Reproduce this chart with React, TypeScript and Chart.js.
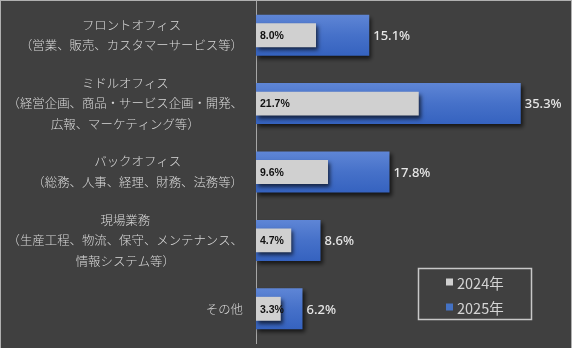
import React, { useEffect, useRef } from "react";
import { Chart, registerables } from "chart.js";

Chart.register(...registerables);

const categories: string[][] = [
  ["フロントオフィス", "（営業、販売、カスタマーサービス等）"],
  ["ミドルオフィス", "（経営企画、商品・サービス企画・開発、", "広報、マーケティング等）"],
  ["バックオフィス", "（総務、人事、経理、財務、法務等）"],
  ["現場業務", "（生産工程、物流、保守、メンテナンス、", "情報システム等）"],
  ["その他"],
];
const values2024: number[] = [8.0, 21.7, 9.6, 4.7, 3.3];
const values2025: number[] = [15.1, 35.3, 17.8, 8.6, 6.2];
const seriesNames: string[] = ["2024年", "2025年"];

const BG = "#404040";
const GREY = "#d0d0d0";
const BLUE = "#4472c4";
const JP_FONT = '"Noto Sans CJK JP", "Noto Sans", sans-serif';

const bgPlugin = {
  id: "bgPlugin",
  beforeDraw(chart: any) {
    const ctx = chart.ctx;
    ctx.save();
    ctx.fillStyle = BG;
    ctx.fillRect(0, 0, chart.width, chart.height);
    ctx.restore();
  },
  afterDraw(chart: any) {
    const ctx = chart.ctx;
    ctx.save();
    ctx.strokeStyle = "#b0b0b0";
    ctx.lineWidth = 1;
    ctx.strokeRect(0.5, 0.5, chart.width - 1, chart.height + 2);
    ctx.restore();
  },
};

const shadowPlugin = {
  id: "shadowPlugin",
  beforeDatasetDraw(chart: any) {
    const ctx = chart.ctx;
    ctx.save();
    ctx.shadowColor = "rgba(0,0,0,0.65)";
    ctx.shadowBlur = 4;
    ctx.shadowOffsetX = 2;
    ctx.shadowOffsetY = 3;
  },
  afterDatasetDraw(chart: any) {
    chart.ctx.restore();
  },
};

const labelsPlugin = {
  id: "labelsPlugin",
  afterDraw(chart: any) {
    const ctx = chart.ctx;
    const yScale = chart.scales.y;
    ctx.save();
    // category labels
    ctx.font = `300 12.4px ${JP_FONT}`;
    ctx.fillStyle = "#d9d9d9";
    ctx.textBaseline = "middle";
    ctx.textAlign = "center";
    const rightEdge = 243;
    const lineH = 20.5;
    categories.forEach((lines, i) => {
      const cy = yScale.getPixelForValue(i);
      const maxW = Math.max(...lines.map((l) => ctx.measureText(l).width));
      const cx = rightEdge - maxW / 2;
      const startY = cy - ((lines.length - 1) * lineH) / 2;
      lines.forEach((l, k) => ctx.fillText(l, cx, startY + k * lineH));
    });

    // value labels
    const meta24 = chart.getDatasetMeta(0);
    const meta25 = chart.getDatasetMeta(1);
    ctx.textAlign = "left";
    ctx.font = 'bold 10.5px "Liberation Sans", Arial, sans-serif';
    ctx.fillStyle = "#111111";
    meta24.data.forEach((bar: any, i: number) => {
      ctx.fillText(values2024[i].toFixed(1) + "%", bar.base + 4, bar.y + 1);
    });
    ctx.font = '500 13px "Noto Sans", "Open Sans", sans-serif';
    ctx.fillStyle = "#e6e6e6";
    meta25.data.forEach((bar: any, i: number) => {
      ctx.fillText(values2025[i].toFixed(1) + "%", bar.x + 4, bar.y + 1);
    });

    // legend
    const lx = 418, ly = 268, lw = 113, lh = 51;
    ctx.strokeStyle = "#c8c8c8";
    ctx.lineWidth = 1.5;
    ctx.strokeRect(lx + 0.5, ly + 0.5, lw, lh);
    const colors = [GREY, BLUE];
    ctx.font = `400 14.5px ${JP_FONT}`;
    seriesNames.forEach((name, k) => {
      const yy = ly + 14 + k * 25;
      ctx.fillStyle = colors[k];
      ctx.fillRect(446, yy - 3.5, 7, 7);
      ctx.fillStyle = "#d4d4d4";
      ctx.fillText(name, 457, yy + 1);
    });
    ctx.restore();
  },
};

function blueGradient(c: any) {
  const chart = c.chart;
  if (!chart.chartArea || c.type !== "data") return BLUE;
  const y = chart.scales.y.getPixelForValue(c.dataIndex);
  const g = chart.ctx.createLinearGradient(0, y - 21, 0, y + 21);
  g.addColorStop(0, "#5f86d6");
  g.addColorStop(0.5, "#4671c9");
  g.addColorStop(1, "#3562bf");
  return g;
}

export default function App() {
  const ref = useRef<HTMLCanvasElement | null>(null);
  useEffect(() => {
    document.body.style.margin = "0";
    document.body.style.background = BG;
    const canvas = ref.current!;
    const chart = new Chart(canvas, {
      type: "bar",
      data: {
        labels: categories.map((c) => c.join("")),
        datasets: [
          {
            label: seriesNames[0],
            data: values2024,
            backgroundColor: GREY,
            borderWidth: 0,
            grouped: false,
            categoryPercentage: 1,
            barPercentage: 0.35,
          } as any,
          {
            label: seriesNames[1],
            data: values2025,
            backgroundColor: blueGradient,
            borderWidth: 0,
            grouped: false,
            categoryPercentage: 1,
            barPercentage: 0.6,
          } as any,
        ],
      },
      options: {
        indexAxis: "y",
        responsive: false,
        animation: false,
        devicePixelRatio: 1,
        layout: { padding: { top: 1, bottom: 5, left: 0, right: 16 } },
        plugins: { legend: { display: false }, tooltip: { enabled: false } },
        scales: {
          x: { display: false, min: 0, max: 40 },
          y: {
            ticks: { display: false },
            grid: { display: false },
            border: { display: true, color: "#a6a6a6", width: 1 },
            afterFit: (s: any) => {
              s.width = 256;
            },
          },
        },
      },
      plugins: [bgPlugin, shadowPlugin, labelsPlugin],
    });
    return () => chart.destroy();
  }, []);
  return (
    <div style={{ width: 572, height: 348 }}>
      <canvas ref={ref} width={572} height={348} style={{ display: "block" }} />
    </div>
  );
}
